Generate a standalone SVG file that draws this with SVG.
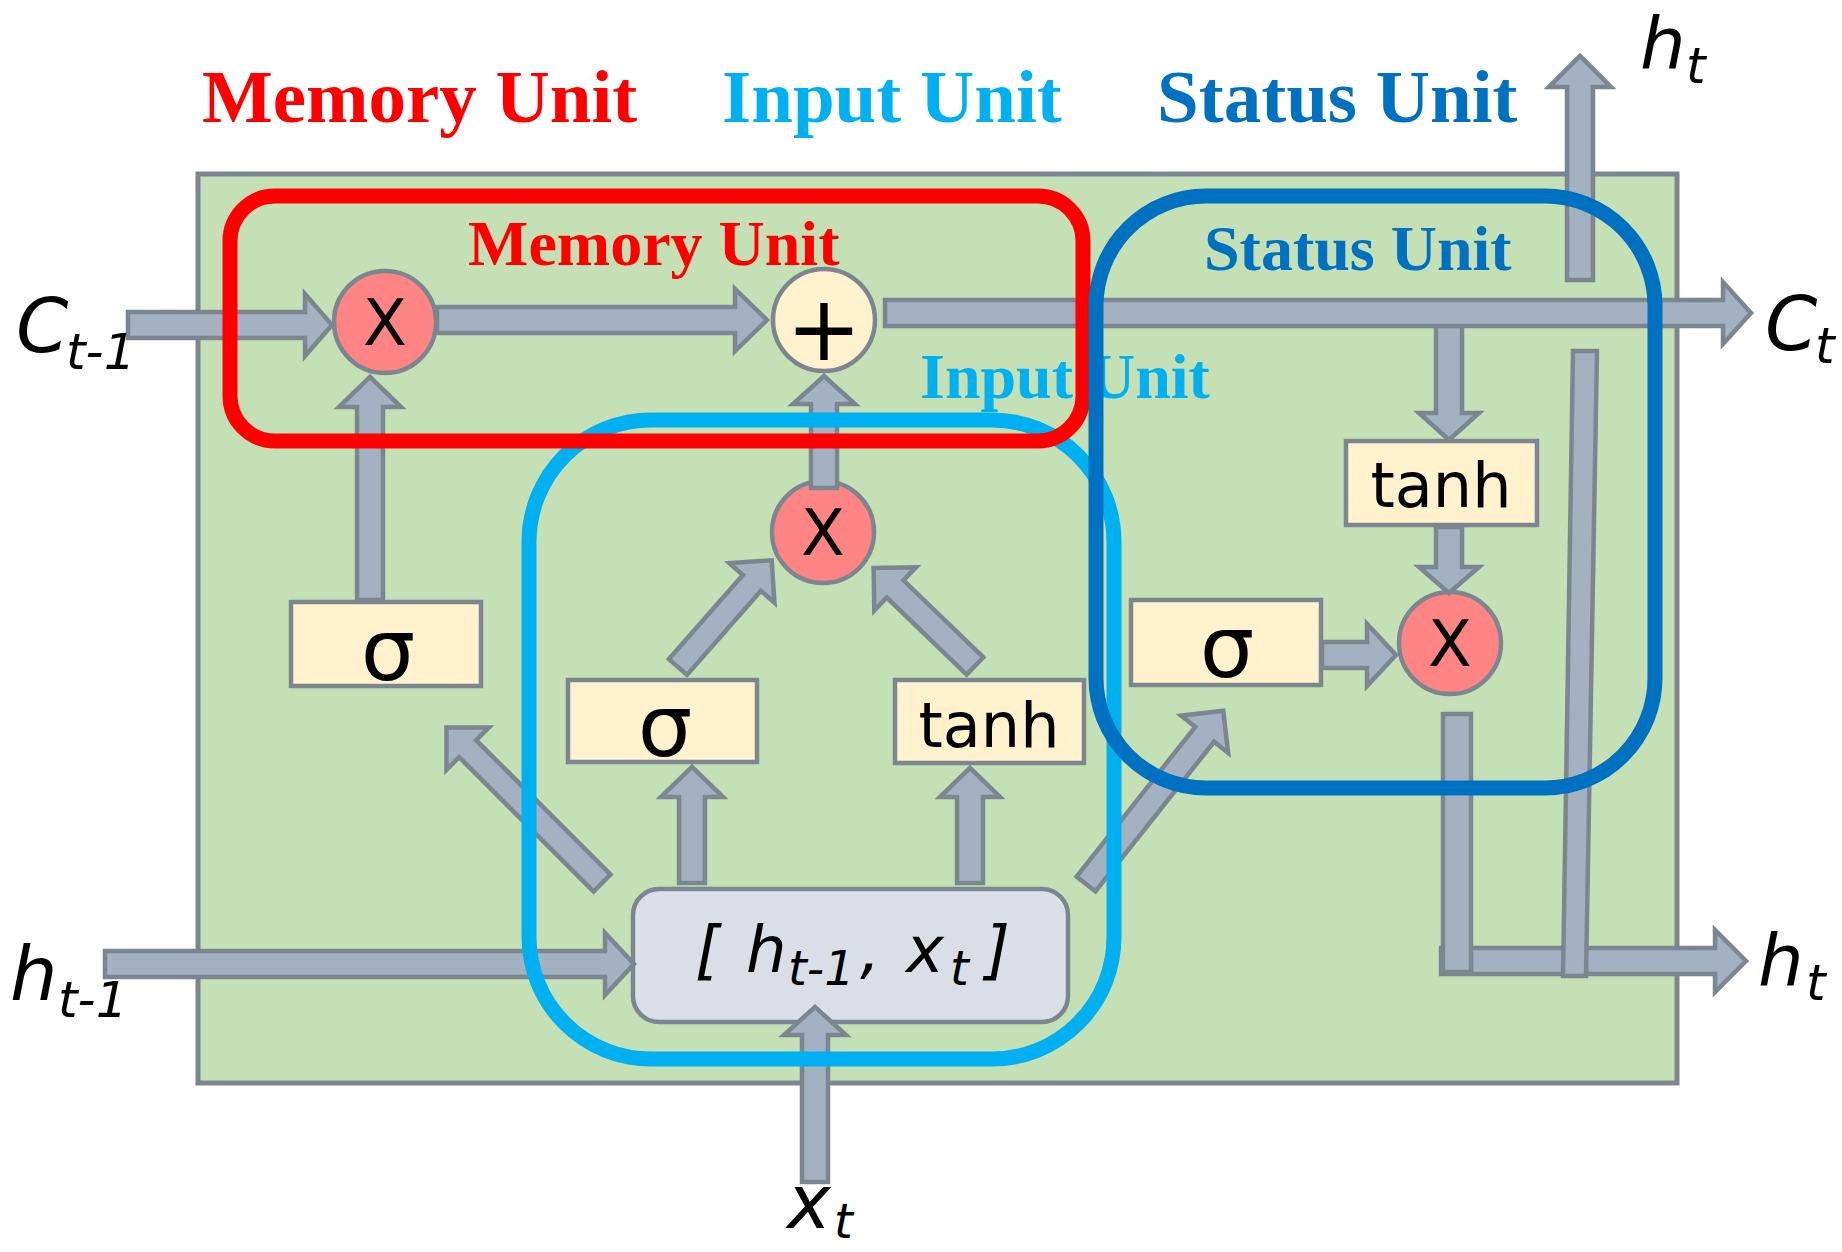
<svg xmlns="http://www.w3.org/2000/svg" width="1842" height="1252" viewBox="0 0 1842 1252">
  <style>
    .cell { fill: #C5E0B4; stroke: #7C8691; stroke-width: 5; }
    .arrow { fill: #A3B1C0; stroke: #7C8691; stroke-width: 4.5; stroke-linejoin: miter; }
    .mul { fill: #FF8585; stroke: #7C8691; stroke-width: 4.5; }
    .add { fill: #FFF2CC; stroke: #7C8691; stroke-width: 4.5; }
    .gate { fill: #FFF2CC; stroke: #7C8691; stroke-width: 4.5; }
    .concat { fill: #DADFE7; stroke: #7C8691; stroke-width: 4.5; }
    .op { font-family: "DejaVu Sans", sans-serif; fill: #000; text-anchor: middle; }
    .var { font-family: "DejaVu Sans", sans-serif; font-style: italic; fill: #000; }
    .title { font-family: "Liberation Serif", "Times New Roman", serif; font-weight: bold; }
    .band { fill: none; stroke-width: 15; }
  </style>

  <!-- LSTM cell body -->
  <rect id="cell" class="cell" x="198" y="174" width="1479" height="909"/>

  <!-- Section titles above the cell -->
  <g id="titles" class="title" font-size="75">
    <text x="202" y="122" fill="#FF0000">Memory Unit</text>
    <text x="722" y="122" fill="#00B0F0">Input Unit</text>
    <text x="1157" y="122" fill="#0070C0">Status Unit</text>
  </g>

  <!-- Section labels inside the cell -->
  <g id="section-labels" class="title" font-size="64">
    <text x="468" y="265" fill="#FF0000">Memory Unit</text>
    <text x="1204" y="270" fill="#0070C0">Status Unit</text>
    <text x="920" y="398" fill="#00B0F0">Input Unit</text>
  </g>

  <!-- Operation nodes -->
  <g id="mul-forget">
    <circle class="mul" cx="385" cy="322" r="51"/>
    <text class="op" x="385" y="345" font-size="64">X</text>
  </g>
  <g id="add-cell">
    <circle class="add" cx="824" cy="320" r="51"/>
    <text class="op" x="824" y="360" font-size="90">+</text>
  </g>
  <g id="mul-input">
    <circle class="mul" cx="823" cy="532" r="51"/>
    <text class="op" x="823" y="555" font-size="64">X</text>
  </g>
  <g id="mul-output">
    <circle class="mul" cx="1450" cy="643" r="51"/>
    <text class="op" x="1450" y="666" font-size="64">X</text>
  </g>

  <g id="sigma-forget">
    <rect class="gate" x="291" y="602" width="190" height="84"/>
    <text class="op" x="388" y="680" font-size="86">σ</text>
  </g>
  <g id="sigma-input">
    <rect class="gate" x="568" y="680" width="189" height="82"/>
    <text class="op" x="665" y="756" font-size="86">σ</text>
  </g>
  <g id="tanh-input">
    <rect class="gate" x="895" y="680" width="189" height="83"/>
    <text class="op" x="989" y="747" font-size="62">tanh</text>
  </g>
  <g id="tanh-state">
    <rect class="gate" x="1346" y="441" width="191" height="84"/>
    <text class="op" x="1441" y="507" font-size="62">tanh</text>
  </g>
  <g id="sigma-output">
    <rect class="gate" x="1131" y="600" width="190" height="85"/>
    <text class="op" x="1227" y="677" font-size="86">σ</text>
  </g>

  <g id="concat">
    <rect class="concat" x="633" y="889" width="435" height="133" rx="26"/>
    <text class="var" font-size="64">
      <tspan x="695" y="972">[</tspan><tspan x="746" y="972">h</tspan><tspan x="788" y="985" font-size="48">t-1</tspan><tspan x="860" y="972">,</tspan><tspan x="906" y="972">x</tspan><tspan x="950" y="985" font-size="48">t</tspan><tspan x="985" y="972">]</tspan>
    </text>
  </g>

  <!-- Connectors: block arrows -->
  <g id="connectors">
    <!-- state down to tanh (under the cell-state line) -->
    <polygon class="arrow" points="1436,324 1436,413 1419,413 1449,440 1479,413 1462,413 1462,324"/>
    <!-- C(t-1) into forget multiply -->
    <polygon class="arrow" points="128,312 305,312 305,294 332,325 305,356 305,338 128,338"/>
    <!-- forget multiply to add -->
    <polygon class="arrow" points="437,307 735,307 735,289 767,320 735,351 735,333 437,333"/>
    <!-- add to C(t) -->
    <polygon class="arrow" points="885,300 1723,300 1723,282 1751,313 1723,344 1723,326 885,326"/>
    <!-- h(t) upward output -->
    <polygon class="arrow" points="1567,280 1567,87 1549,87 1580,56 1611,87 1593,87 1593,280"/>
    <!-- tanh to output multiply -->
    <polygon class="arrow" points="1436,527 1436,567 1419,567 1449,593 1479,567 1462,567 1462,527"/>
    <!-- output sigma to output multiply -->
    <polygon class="arrow" points="1322,642 1367,642 1367,624 1396,655 1367,686 1367,668 1322,668"/>
    <!-- output multiply to h(t) -->
    <polygon class="arrow" points="1441,948 1715,948 1715,930 1746,961 1715,992 1715,974 1441,974"/>
    <rect class="arrow" x="1443" y="714" width="28" height="258"/>
    <polygon class="arrow" points="1573,351 1597,351 1586,976 1563,976"/>
    <!-- concat to forget sigma -->
    <polygon class="arrow" transform="translate(602,883) rotate(-135)" points="0,-12 190,-12 190,-30 220,0 190,30 190,12 0,12"/>
    <!-- input sigma to input multiply -->
    <polygon class="arrow" transform="translate(678,667) rotate(-48.7)" points="0,-12 112,-12 112,-30 142,0 112,30 112,12 0,12"/>
    <!-- input tanh to input multiply -->
    <polygon class="arrow" transform="translate(975,666) rotate(-136)" points="0,-12 111,-12 111,-30 141,0 111,30 111,12 0,12"/>
    <!-- concat to input sigma -->
    <polygon class="arrow" points="679,883 679,797 661,797 692,767 723,797 705,797 705,883"/>
    <!-- concat to input tanh -->
    <polygon class="arrow" points="957,883 957,797 940,797 970,768 1000,797 983,797 983,883"/>
    <!-- concat to output sigma -->
    <polygon class="arrow" transform="translate(1086,884) rotate(-51.6)" points="0,-12 191,-12 191,-30 221,0 191,30 191,12 0,12"/>
    <!-- h(t-1) into concat -->
    <polygon class="arrow" points="105,951 605,951 605,933 634,964 605,995 605,977 105,977"/>
    <!-- x(t) into concat -->
    <polygon class="arrow" points="802,1182 802,1035 784,1035 815,1007 846,1035 828,1035 828,1182"/>
    <!-- input multiply to add -->
    <polygon class="arrow" points="811,488 811,404 793,404 824,376 855,404 837,404 837,488"/>
    <!-- forget sigma to forget multiply -->
    <polygon class="arrow" points="357,600 357,407 339,407 370,377 401,407 383,407 383,600"/>
  </g>

  <!-- Unit outlines -->
  <g id="unit-outlines">
    <rect class="band" x="529" y="420" width="585" height="639" rx="122" stroke="#00B0F0"/>
    <rect class="band" x="230" y="196" width="853" height="245" rx="45" stroke="#FF0000"/>
    <rect class="band" x="1096" y="196" width="559" height="592" rx="110" stroke="#0070C0"/>
  </g>

  <!-- Input / output variable labels -->
  <g id="labels" class="var">
    <text font-size="75"><tspan x="16" y="352">C</tspan><tspan x="66" y="369" font-size="50">t-1</tspan></text>
    <text font-size="75"><tspan x="1765" y="350">C</tspan><tspan x="1815" y="363" font-size="50">t</tspan></text>
    <text font-size="72"><tspan x="1640" y="68">h</tspan><tspan x="1686" y="83" font-size="50">t</tspan></text>
    <text font-size="75"><tspan x="10" y="1000">h</tspan><tspan x="58" y="1017" font-size="50">t-1</tspan></text>
    <text font-size="72"><tspan x="1758" y="985">h</tspan><tspan x="1806" y="1000" font-size="50">t</tspan></text>
    <text font-size="74"><tspan x="787" y="1228">x</tspan><tspan x="834" y="1238" font-size="48">t</tspan></text>
  </g>
</svg>
